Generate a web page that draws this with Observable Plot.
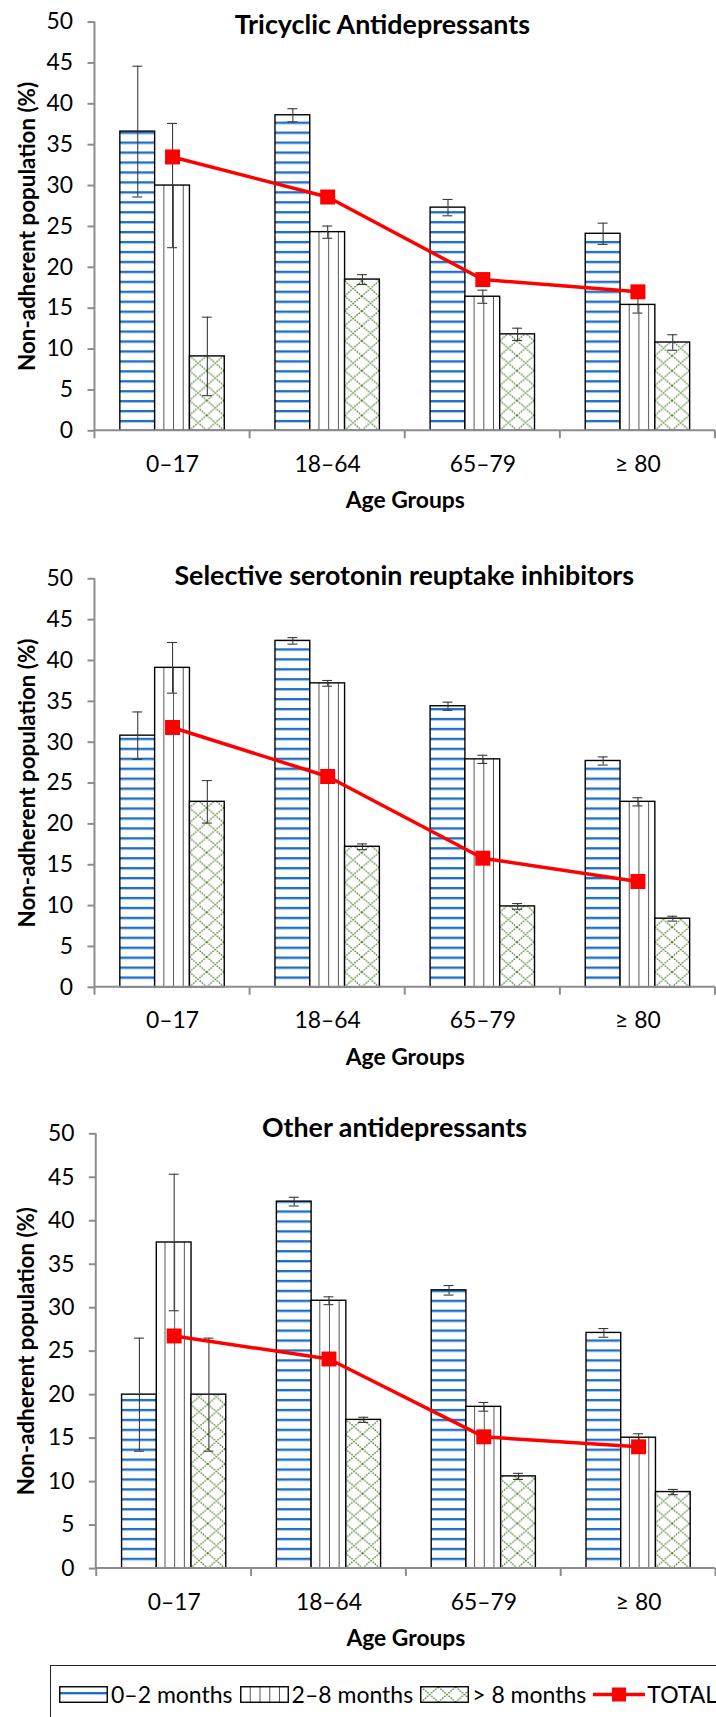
<!DOCTYPE html>
<html>
<head>
<meta charset="utf-8">
<script src="https://cdn.jsdelivr.net/npm/d3@7"></script>
<script src="https://cdn.jsdelivr.net/npm/@observablehq/plot@0.6"></script>
<style>
  html, body { margin: 0; padding: 0; background: #fff; }
  #page { position: relative; width: 716px; height: 1717px; overflow: hidden; background: #fff; font-family: Lato, "Open Sans", sans-serif; }
  .panel { position: absolute; left: 0; }
  #legend { position: absolute; left: 50px; top: 1665px; width: 720px; height: 58px; border: 1.5px solid #222; box-sizing: border-box;
            display: flex; align-items: center; padding-left: 8px; font-size: 23px; color: #000; background: #fff; }
  .item { display: flex; align-items: center; margin-right: 7px; white-space: nowrap; }
  .item svg { margin-right: 3px; display: block; }
  .item.total svg { margin-right: 2px; }
</style>
</head>
<body>
<div id="page"></div>
<script>
// ---------- data ----------
const ageGroups = ["0–17", "18–64", "65–79", "≥ 80"];
const periods = ["0–2 months", "2–8 months", "> 8 months"];
const totalLabel = "TOTAL";
const yTicks = [0, 5, 10, 15, 20, 25, 30, 35, 40, 45, 50];
const xTitle = "Age Groups";
const yTitle = "Non-adherent population (%)";
const titles = ["Tricyclic Antidepressants", "Selective serotonin reuptake inhibitors", "Other antidepressants"];

// Tricyclic antidepressants
const tca_0_2 = [36.6, 38.6, 27.3, 24.1];
const tca_0_2_err = [8.0, 0.8, 1.0, 1.3];
const tca_2_8 = [30.0, 24.3, 16.4, 15.4];
const tca_2_8_err = [7.6, 0.75, 0.8, 1.0];
const tca_8 = [9.1, 18.5, 11.8, 10.8];
const tca_8_err = [4.8, 0.6, 0.75, 0.95];
const tca_total = [33.5, 28.6, 18.5, 17.0];

// Selective serotonin reuptake inhibitors
const ssri_0_2 = [30.8, 42.4, 34.4, 27.7];
const ssri_0_2_err = [2.9, 0.4, 0.5, 0.5];
const ssri_2_8 = [39.1, 37.2, 27.9, 22.7];
const ssri_2_8_err = [3.1, 0.35, 0.5, 0.5];
const ssri_8 = [22.7, 17.2, 9.9, 8.4];
const ssri_8_err = [2.6, 0.35, 0.35, 0.3];
const ssri_total = [31.8, 25.8, 15.8, 12.95];

// Other antidepressants
const oth_0_2 = [20.0, 42.2, 32.0, 27.1];
const oth_0_2_err = [6.5, 0.5, 0.55, 0.5];
const oth_2_8 = [37.5, 30.8, 18.6, 15.05];
const oth_2_8_err = [7.85, 0.45, 0.5, 0.45];
const oth_8 = [20.0, 17.1, 10.6, 8.8];
const oth_8_err = [6.5, 0.3, 0.35, 0.3];
const oth_total = [26.75, 24.1, 15.15, 14.0];

// ---------- styles / layout ----------
const BLUE = "#1f6fc4", GREEN = "#4b7f2a", VLINE = "#555", AXIS = "#8c8c8c", RED = "#ff0000", ERR = "#3a3a3a";
const CAT_STEP = 156, BAR_W = 35, CAP = 10, MB = 90;
const FONT = "Lato, 'Open Sans', sans-serif";

const panels = [
  {id: "p1", title: titles[0], series: [[tca_0_2, tca_0_2_err], [tca_2_8, tca_2_8_err], [tca_8, tca_8_err]], total: tca_total,
   top: 0, ml: 95, mt: 21.7, ph: 411, titleDx: -23, titleDy: 3.3},
  {id: "p2", title: titles[1], series: [[ssri_0_2, ssri_0_2_err], [ssri_2_8, ssri_2_8_err], [ssri_8, ssri_8_err]], total: ssri_total,
   top: 540, ml: 95, mt: 38.5, ph: 410.8, titleDx: -1, titleDy: -2.5},
  {id: "p3", title: titles[2], series: [[oth_0_2, oth_0_2_err], [oth_2_8, oth_2_8_err], [oth_8, oth_8_err]], total: oth_total,
   top: 1095, ml: 96.5, mt: 38.6, ph: 438.1, titleDx: -11.5, titleDy: -5.1}
];

function addPatterns(defs, id, o) {
  const hs = defs.append("pattern").attr("id", `hs-${id}`).attr("patternUnits", "userSpaceOnUse")
    .attr("x", 0).attr("y", o.hy).attr("width", 40).attr("height", 10);
  hs.append("rect").attr("width", 40).attr("height", 10).attr("fill", "#fff");
  hs.append("rect").attr("y", 0).attr("width", 40).attr("height", 2.2).attr("fill", BLUE);
  hs.append("rect").attr("y", 2.2).attr("width", 40).attr("height", 0.8).attr("fill", "#9cc2ea");

  const vw = o.step / 16;
  const vs = defs.append("pattern").attr("id", `vs-${id}`).attr("patternUnits", "userSpaceOnUse")
    .attr("x", o.vx).attr("y", 0).attr("width", vw).attr("height", 40);
  vs.append("rect").attr("width", vw).attr("height", 40).attr("fill", "#fff");
  vs.append("rect").attr("x", vw - 1).attr("width", 1.1).attr("height", 40).attr("fill", VLINE);

  const cw = o.step / 9, ch = 15;
  const cx = defs.append("pattern").attr("id", `cx-${id}`).attr("patternUnits", "userSpaceOnUse")
    .attr("x", o.cx).attr("y", o.cy).attr("width", cw).attr("height", ch);
  cx.append("rect").attr("width", cw).attr("height", ch).attr("fill", "#fff");
  cx.append("path").attr("d", `M0,0L${cw},${ch}M${cw},0L0,${ch}`)
    .attr("stroke", GREEN).attr("stroke-width", 1.3).attr("stroke-dasharray", "1.6,1.1").attr("fill", "none");
}

const page = document.getElementById("page");

panels.forEach(p => {
  const n = ageGroups.length;
  const mr = 1;
  const W = p.ml + n * CAT_STEP + mr;
  const H = p.mt + p.ph + MB;
  const step = (W - p.ml - mr) / n;
  const pad = (step - periods.length * BAR_W) / 2;
  const y0px = p.mt + p.ph;

  const seriesRows = p.series.map(([vals, errs], j) =>
    ageGroups.map((age, i) => ({age, period: periods[j], v: vals[i], e: errs[i]})));
  const totalRows = ageGroups.map((age, i) => ({age, v: p.total[i]}));
  const fills = [`url(#hs-${p.id})`, `url(#vs-${p.id})`, `url(#cx-${p.id})`];

  const marks = [];
  seriesRows.forEach((rows, j) => {
    marks.push(Plot.barY(rows, {
      x: "age", y: "v", fill: fills[j], stroke: "#000", strokeWidth: 1.4,
      insetLeft: pad + j * BAR_W, insetRight: step - pad - (j + 1) * BAR_W
    }));
  });
  seriesRows.forEach((rows, j) => {
    const dx = (j - 1) * BAR_W;
    marks.push(Plot.ruleX(rows, {x: "age", y1: d => d.v - d.e, y2: d => d.v + d.e, dx, stroke: ERR, strokeWidth: 1.1}));
    marks.push(Plot.tickY(rows, {x: "age", y: d => d.v + d.e, dx, insetLeft: (step - CAP) / 2, insetRight: (step - CAP) / 2, stroke: ERR, strokeWidth: 1.1}));
    marks.push(Plot.tickY(rows, {x: "age", y: d => d.v - d.e, dx, insetLeft: (step - CAP) / 2, insetRight: (step - CAP) / 2, stroke: ERR, strokeWidth: 1.1}));
  });
  marks.push((index, scales, values, dims) => {
    const x = scales.x, y = scales.y;
    const g = d3.create("svg:g").attr("stroke", AXIS).attr("stroke-width", 2).attr("fill", "none");
    const x0 = dims.marginLeft, x1 = dims.width - dims.marginRight;
    const yb = y(0), yt = y(d3.max(yTicks));
    g.append("line").attr("x1", x0).attr("x2", x0).attr("y1", yt).attr("y2", yb);
    g.append("line").attr("x1", x0).attr("x2", x1).attr("y1", yb).attr("y2", yb);
    const st = x.step ? x.step() : x.bandwidth();
    const edges = ageGroups.map(a => x(a)).concat([x(ageGroups[n - 1]) + st]);
    edges.forEach(e => g.append("line").attr("x1", e).attr("x2", e).attr("y1", yb).attr("y2", yb + 8));
    return g.node();
  });
  marks.push(Plot.line(totalRows, {x: "age", y: "v", stroke: RED, strokeWidth: 3.5}));
  marks.push(Plot.dot(totalRows, {x: "age", y: "v", symbol: "square", r: 8.5, fill: RED, stroke: "none"}));
  marks.push(Plot.axisY({ticks: yTicks, tickSize: 7, tickPadding: 15, stroke: AXIS, strokeWidth: 2, fontSize: 23, label: null}));
  marks.push(Plot.axisX({tickSize: 0, tickPadding: 25, fontSize: 23, label: null}));
  marks.push(Plot.text([p.title], {frameAnchor: "top", lineAnchor: "middle", dx: p.titleDx, dy: p.titleDy, fontWeight: "bold", fontSize: 27}));
  marks.push(Plot.text([xTitle], {frameAnchor: "bottom", lineAnchor: "middle", dy: 70.5, fontWeight: "bold", fontSize: 23}));
  marks.push(Plot.text([yTitle], {frameAnchor: "left", lineAnchor: "middle", textAnchor: "middle", dx: 27 - p.ml, rotate: -90, fontWeight: "bold", fontSize: 22.5}));

  const svg = Plot.plot({
    width: W, height: H,
    marginLeft: p.ml, marginRight: mr, marginTop: p.mt, marginBottom: MB,
    x: {type: "band", domain: ageGroups, padding: 0},
    y: {domain: [0, 50]},
    style: {fontFamily: FONT, fontSize: "21px", color: "#000", background: "transparent", overflow: "visible"},
    marks
  });
  const defs = d3.select(svg).insert("defs", ":first-child");
  const barLeft0 = p.ml + pad;
  addPatterns(defs, p.id, {hy: y0px - 10.4, vx: barLeft0 + BAR_W, cx: barLeft0 + 2 * BAR_W, cy: y0px, step});

  const div = document.createElement("div");
  div.className = "panel";
  div.style.top = p.top + "px";
  div.appendChild(svg);
  page.appendChild(div);
});

// ---------- legend ----------
const legend = d3.select(page).append("div").attr("id", "legend");
const swatchKinds = ["hs", "vs", "cx"];
periods.forEach((label, j) => {
  const item = legend.append("div").attr("class", "item");
  const sw = item.append("svg").attr("width", 49).attr("height", 17);
  addPatterns(sw.append("defs"), "lg" + j, {hy: 6, vx: 1, cx: 1, cy: 1, step: 156});
  sw.append("rect").attr("x", 0.75).attr("y", 0.75).attr("width", 47.5).attr("height", 15.5)
    .attr("fill", `url(#${swatchKinds[j]}-lg${j})`).attr("stroke", "#000").attr("stroke-width", 1.4);
  item.append("span").text(label);
});
{
  const item = legend.append("div").attr("class", "item total");
  const sw = item.append("svg").attr("width", 52).attr("height", 17);
  sw.append("line").attr("x1", 0).attr("x2", 52).attr("y1", 8.5).attr("y2", 8.5).attr("stroke", RED).attr("stroke-width", 3.5);
  sw.append("rect").attr("x", 19).attr("y", 1.5).attr("width", 14).attr("height", 14).attr("fill", RED);
  item.append("span").text(totalLabel);
}
</script>
</body>
</html>
